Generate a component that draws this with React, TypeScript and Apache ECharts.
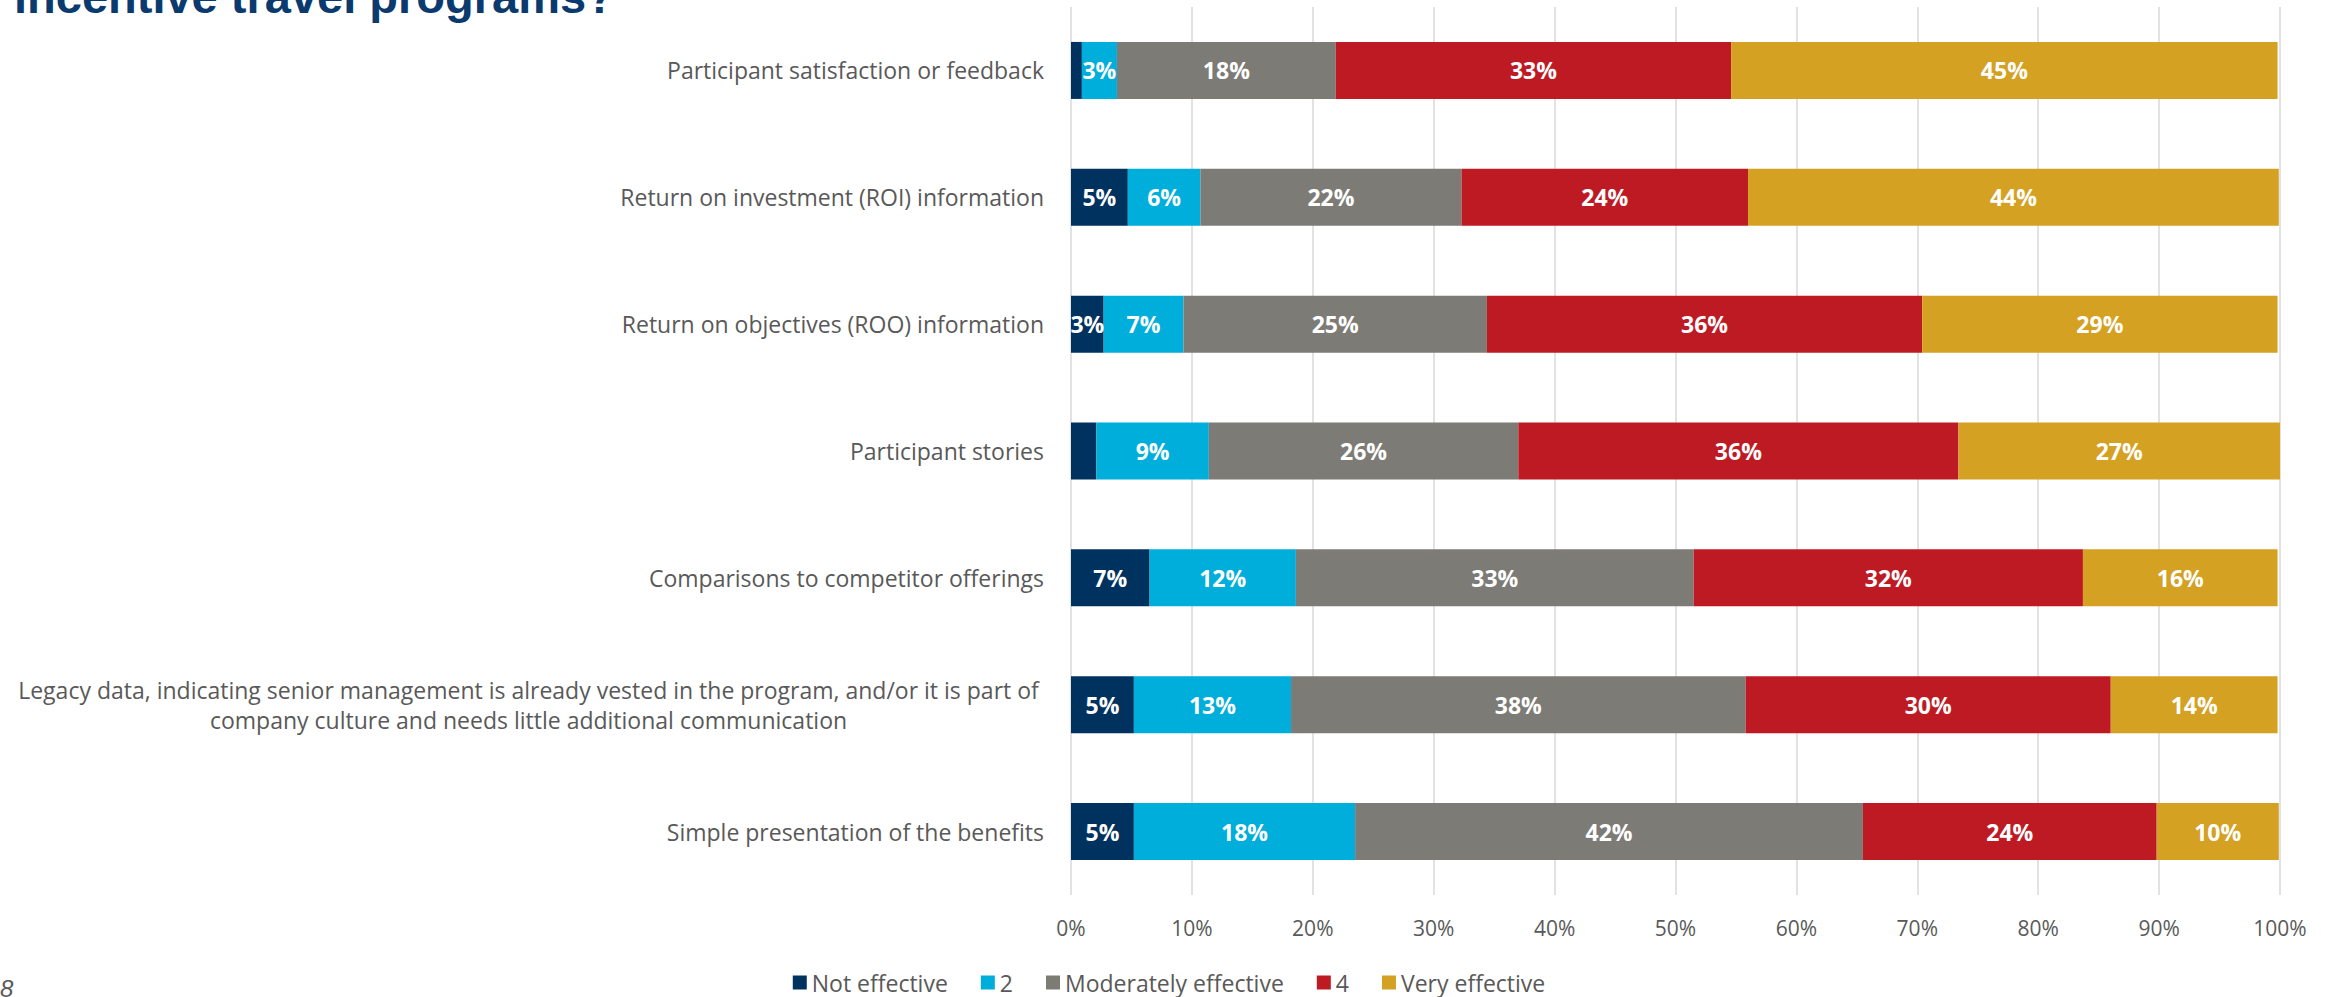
import React, { useEffect, useRef } from "react";
import * as echarts from "echarts";

const categories = [
  "Participant satisfaction or feedback",
  "Return on investment (ROI) information",
  "Return on objectives (ROO) information",
  "Participant stories",
  "Comparisons to competitor offerings",
  "Legacy data, indicating senior management is already vested in the program, and/or it is part of\ncompany culture and needs little additional communication",
  "Simple presentation of the benefits",
];

const seriesNames = ["Not effective", "2", "Moderately effective", "4", "Very effective"];
const colors = ["#00325F", "#00AEDB", "#7C7B76", "#BE1A24", "#D4A122"];

const notEffective = [0.9, 4.7, 2.7, 2.1, 6.5, 5.2, 5.2];
const two = [2.9, 6.0, 6.6, 9.3, 12.1, 13.0, 18.3];
const moderately = [18.1, 21.6, 25.1, 25.6, 32.9, 37.6, 42.0];
const four = [32.7, 23.7, 36.0, 36.4, 32.2, 30.2, 24.3];
const veryEffective = [45.2, 43.9, 29.4, 26.6, 16.1, 13.8, 10.1];

const seriesValues = [notEffective, two, moderately, four, veryEffective];
const xTicks = [0, 10, 20, 30, 40, 50, 60, 70, 80, 90, 100];

export default function App() {
  const ref = useRef<HTMLDivElement>(null);
  useEffect(() => {
    if (!ref.current) return;
    const chart = echarts.init(ref.current, null, { renderer: "svg" });
    const catFont = "'Open Sans', sans-serif";
    chart.setOption({
      animation: false,
      backgroundColor: "#ffffff",
      grid: { left: 1071, right: 58, top: 7, bottom: 102, containLabel: false },
      xAxis: {
        type: "value",
        min: xTicks[0],
        max: xTicks[xTicks.length - 1],
        interval: 10,
        axisLine: { show: false },
        axisTick: { show: false },
        splitLine: { show: true, lineStyle: { color: "#d9d9d9", width: 1.5 } },
        axisLabel: {
          formatter: (v: number) => v + "%",
          color: "#595959",
          fontFamily: catFont,
          fontSize: 21,
          margin: 22,
        },
      },
      yAxis: {
        type: "category",
        inverse: true,
        data: categories,
        axisLine: { show: false },
        axisTick: { show: false },
        axisLabel: {
          color: "#595959",
          fontFamily: catFont,
          fontSize: 23,
          margin: 27,
          lineHeight: 30,
          formatter: (v: string) => {
            if (v.indexOf("\n") < 0) return v;
            return v
              .split("\n")
              .map((l) => "{c|" + l + "}")
              .join("\n");
          },
          rich: {
            c: {
              width: 1031,
              align: "center",
              color: "#595959",
              fontFamily: catFont,
              fontSize: 23,
              lineHeight: 30,
            },
          },
        },
      },
      legend: {
        top: 966,
        left: "center",
        icon: "rect",
        itemWidth: 14,
        itemHeight: 14,
        itemGap: 33,
        textStyle: { color: "#595959", fontFamily: catFont, fontSize: 23 },
        data: seriesNames,
      },
      series: seriesNames.map((name, i) => ({
        name,
        type: "bar",
        stack: "total",
        barWidth: 57,
        itemStyle: { color: colors[i] },
        label: {
          show: true,
          position: "inside",
          color: "#ffffff",
          fontWeight: "bold",
          fontFamily: catFont,
          fontSize: 23,
          formatter: (p: any) => (p.value < 2.5 ? "" : Math.round(p.value) + "%"),
        },
        data: seriesValues[i],
      })),
      graphic: [
        {
          type: "text",
          left: 14,
          top: -27,
          style: {
            text: "incentive travel programs?",
            fill: "#0B3A6E",
            font: "bold 47px 'Liberation Sans', Arial, sans-serif",
          },
        },
        {
          type: "text",
          left: 0,
          top: 976,
          style: {
            text: "8",
            fill: "#595959",
            font: "italic 24px 'Liberation Sans', Arial, sans-serif",
          },
        },
      ],
    });
    return () => chart.dispose();
  }, []);
  return (
    <div
      ref={ref}
      style={{ position: "absolute", left: 0, top: 0, width: 2338, height: 997 }}
    />
  );
}
